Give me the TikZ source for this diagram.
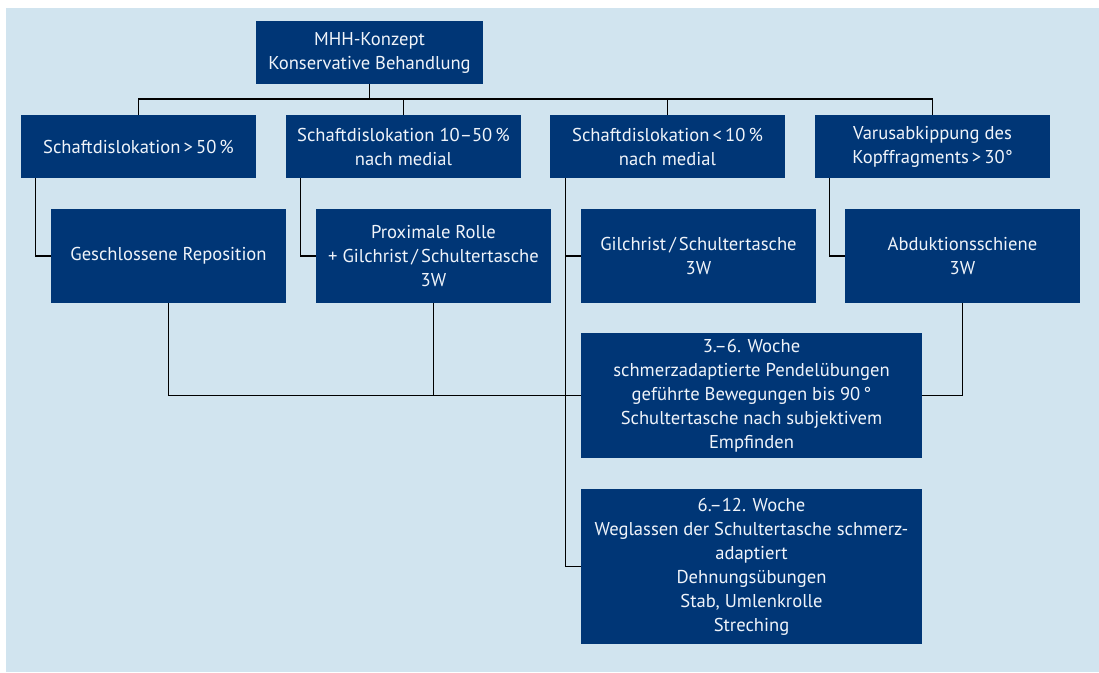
\documentclass[tikz,border=0pt]{standalone}
\usepackage{fontspec}
\setmainfont{PT Sans}
\definecolor{bgblue}{RGB}{209,228,239}
\definecolor{boxblue}{RGB}{0,54,118}
\definecolor{txt}{RGB}{240,244,250}
\begin{document}
\begin{tikzpicture}[x=1pt,y=-1pt,
  box/.style={fill=boxblue,text=txt,align=center,inner sep=0pt,font=\fontsize{18.6}{24}\selectfont},
  conn/.style={draw=black,line width=1.2pt}]
\useasboundingbox (0,0) rectangle (1099,672);
\fill[bgblue] (6,8) rectangle (1099,672);
% level 1
\node[box,minimum width=227,minimum height=63] (top) at (369.5,52.5) {MHH-Konzept\\Konservative Behandlung};
% level 2
\node[box,minimum width=235,minimum height=63] (A) at (138.5,146.5) {Schaftdislokation\,>\,50\,\%};
\node[box,minimum width=235,minimum height=63] (B) at (403.5,146.5) {Schaftdislokation 10–50\,\%\\nach medial};
\node[box,minimum width=235,minimum height=63] (C) at (667.5,146.5) {Schaftdislokation\,<\,10\,\%\\nach medial};
\node[box,minimum width=235,minimum height=63] (D) at (932.5,146.5) {Varusabkippung des\\Kopffragments\,>\,30°};
% level 3
\node[box,minimum width=235,minimum height=94] (E) at (168.5,256) {Geschlossene Reposition};
\node[box,minimum width=235,minimum height=94] (F) at (433.5,256) {Proximale Rolle\\+ Gilchrist\,/\,Schultertasche\\3W};
\node[box,minimum width=235,minimum height=94] (G) at (698.5,256) {Gilchrist\,/\,Schultertasche\\3W};
\node[box,minimum width=235,minimum height=94] (H) at (962.5,256) {Abduktionsschiene\\3W};
% level 4
\node[box,minimum width=341,minimum height=125] (J) at (751.5,395.5) {3.–6. Woche\\schmerzadaptierte Pendelübungen\\geführte Bewegungen bis 90\,°\\Schultertasche nach subjektivem\\Empfinden};
\node[box,minimum width=341,minimum height=155] (K) at (751.5,566.5) {6.–12. Woche\\Weglassen der Schultertasche schmerz-\\adaptiert\\Dehnungsübungen\\Stab, Umlenkrolle\\Streching};
% bus
\coordinate (bus) at (138,99);
\draw[conn] (A.north) -- (A.north |- bus) -- (D.north |- bus) -- (D.north);
\draw[conn] (B.north) -- (B.north |- bus);
\draw[conn] (C.north) -- (C.north |- bus);
\draw[conn] (top.south) -- (top.south |- bus);
% level 2 -> 3
\draw[conn] ([xshift=15pt]A.south west) |- (E.west);
\draw[conn] ([xshift=15pt]B.south west) |- (F.west);
\draw[conn] ([xshift=15pt]D.south west) |- (H.west);
\coordinate (cl) at ([xshift=16pt]C.south west);
\draw[conn] (cl) |- (K.west);
\draw[conn] (G.west) -- (G.west -| cl);
% level 3 -> 4
\draw[conn] (E.south) |- (J.west);
\draw[conn] (F.south) -- (F.south |- J.west);
\draw[conn] (H.south) |- (J.east);
\end{tikzpicture}
\end{document}
